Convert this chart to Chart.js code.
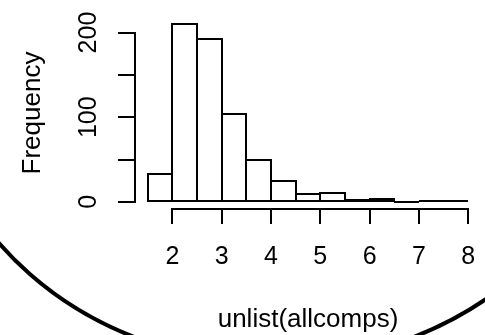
<!DOCTYPE html>
<html>
<head>
<meta charset="utf-8">
<script src="https://cdn.jsdelivr.net/npm/chart.js@4.4.1/dist/chart.umd.min.js"></script>
<style>
  html, body { margin: 0; padding: 0; background: #fff; }
  #histChart { display: block; }
</style>
</head>
<body>
<canvas id="histChart" width="485" height="335"></canvas>
<script>
const breaks = [1.5, 2, 2.5, 3, 3.5, 4, 4.5, 5, 5.5, 6, 6.5, 7, 7.5, 8];
const counts = [33, 210, 193, 104, 49, 25, 9, 11, 2, 4, 0, 1, 1];
const xTicks = [2, 3, 4, 5, 6, 7, 8];
const yTicks = [0, 50, 100, 150, 200];
const yLabels = [0, 100, 200];
const xTitle = "unlist(allcomps)";
const yTitle = "Frequency";

// base R widens the data range by 4% on each side
const widen = (lo, hi) => [lo - 0.04 * (hi - lo), hi + 0.04 * (hi - lo)];
const [xMin, xMax] = widen(breaks[0], breaks[breaks.length - 1]);
const [yMin, yMax] = widen(0, Math.max(...counts));

const bins = counts.map((c, i) => ({ x: (breaks[i] + breaks[i + 1]) / 2, y: c }));

const family = "'Liberation Sans', Arial, sans-serif";
const tickFont = { family, size: 25 };
const titleFont = { family, size: 26 };

// outline every bar like rect() does, so shared edges stay one line wide
// and empty bins still leave a line on the baseline
const barOutlines = {
  id: "barOutlines",
  afterDatasetsDraw(chart) {
    const ctx = chart.ctx;
    ctx.save();
    ctx.strokeStyle = "#000";
    ctx.lineWidth = 2;
    chart.getDatasetMeta(0).data.forEach((bar) => {
      const { x, y, base, width } = bar.getProps(["x", "y", "base", "width"], true);
      const left = Math.round(x - width / 2);
      const right = Math.round(x + width / 2);
      const top = Math.round(y);
      const bottom = Math.round(base);
      ctx.strokeRect(left, top, right - left, bottom - top);
    });
    ctx.restore();
  }
};

// axis lines only run from the first to the last tick
const axisLines = {
  id: "axisLines",
  afterDraw(chart) {
    const { ctx, chartArea, scales: { x, y } } = chart;
    ctx.save();
    ctx.strokeStyle = "#000";
    ctx.lineWidth = 2;
    ctx.beginPath();
    ctx.moveTo(Math.round(x.getPixelForValue(xTicks[0])) - 1, chartArea.bottom);
    ctx.lineTo(Math.round(x.getPixelForValue(xTicks[xTicks.length - 1])) + 1, chartArea.bottom);
    ctx.moveTo(chartArea.left, Math.round(y.getPixelForValue(yTicks[0])) + 1);
    ctx.lineTo(chartArea.left, Math.round(y.getPixelForValue(yTicks[yTicks.length - 1])) - 1);
    ctx.stroke();
    ctx.restore();
  }
};

// the big oval drawn round the plot, only its lower part shows
const oval = {
  id: "oval",
  afterDraw(chart) {
    const ctx = chart.ctx;
    ctx.save();
    ctx.strokeStyle = "#000";
    ctx.lineWidth = 4;
    ctx.beginPath();
    ctx.ellipse(274, 60, 345, 303, 0, 0, Math.PI * 2);
    ctx.stroke();
    ctx.restore();
  }
};

Chart.defaults.color = "#000";

new Chart(document.getElementById("histChart"), {
  type: "bar",
  data: {
    datasets: [{
      data: bins,
      backgroundColor: "#fff",
      borderWidth: 0,
      barPercentage: 1,
      categoryPercentage: 1
    }]
  },
  options: {
    responsive: false,
    animation: false,
    layout: { padding: { top: 17, right: 4, bottom: 0, left: 0 } },
    plugins: { legend: { display: false }, tooltip: { enabled: false } },
    scales: {
      x: {
        type: "linear",
        min: xMin,
        max: xMax,
        offset: false,
        afterBuildTicks: (s) => { s.ticks = xTicks.map((v) => ({ value: v })); },
        afterFit: (s) => { s.height = 126; s.paddingLeft = 0; s.paddingRight = 0; },
        border: { display: false },
        grid: { drawOnChartArea: false, offset: false, color: "#000", lineWidth: 2, tickLength: 15 },
        ticks: { font: tickFont, padding: 18, autoSkip: false, maxRotation: 0 },
        title: { display: true, text: xTitle, font: titleFont, padding: 0 }
      },
      y: {
        min: yMin,
        max: yMax,
        afterBuildTicks: (s) => { s.ticks = yTicks.map((v) => ({ value: v })); },
        afterFit: (s) => { s.width = 135; s.paddingTop = 0; s.paddingBottom = 0; },
        border: { display: false },
        grid: { drawOnChartArea: false, color: "#000", lineWidth: 2, tickLength: 17 },
        ticks: {
          font: tickFont,
          padding: 8,
          autoSkip: false,
          minRotation: 90,
          maxRotation: 90,
          crossAlign: "center",
          callback: (v) => (yLabels.includes(v) ? String(v) : "")
        },
        title: { display: true, text: yTitle, font: titleFont, padding: 17 }
      }
    }
  },
  plugins: [barOutlines, axisLines, oval]
});
</script>
</body>
</html>
